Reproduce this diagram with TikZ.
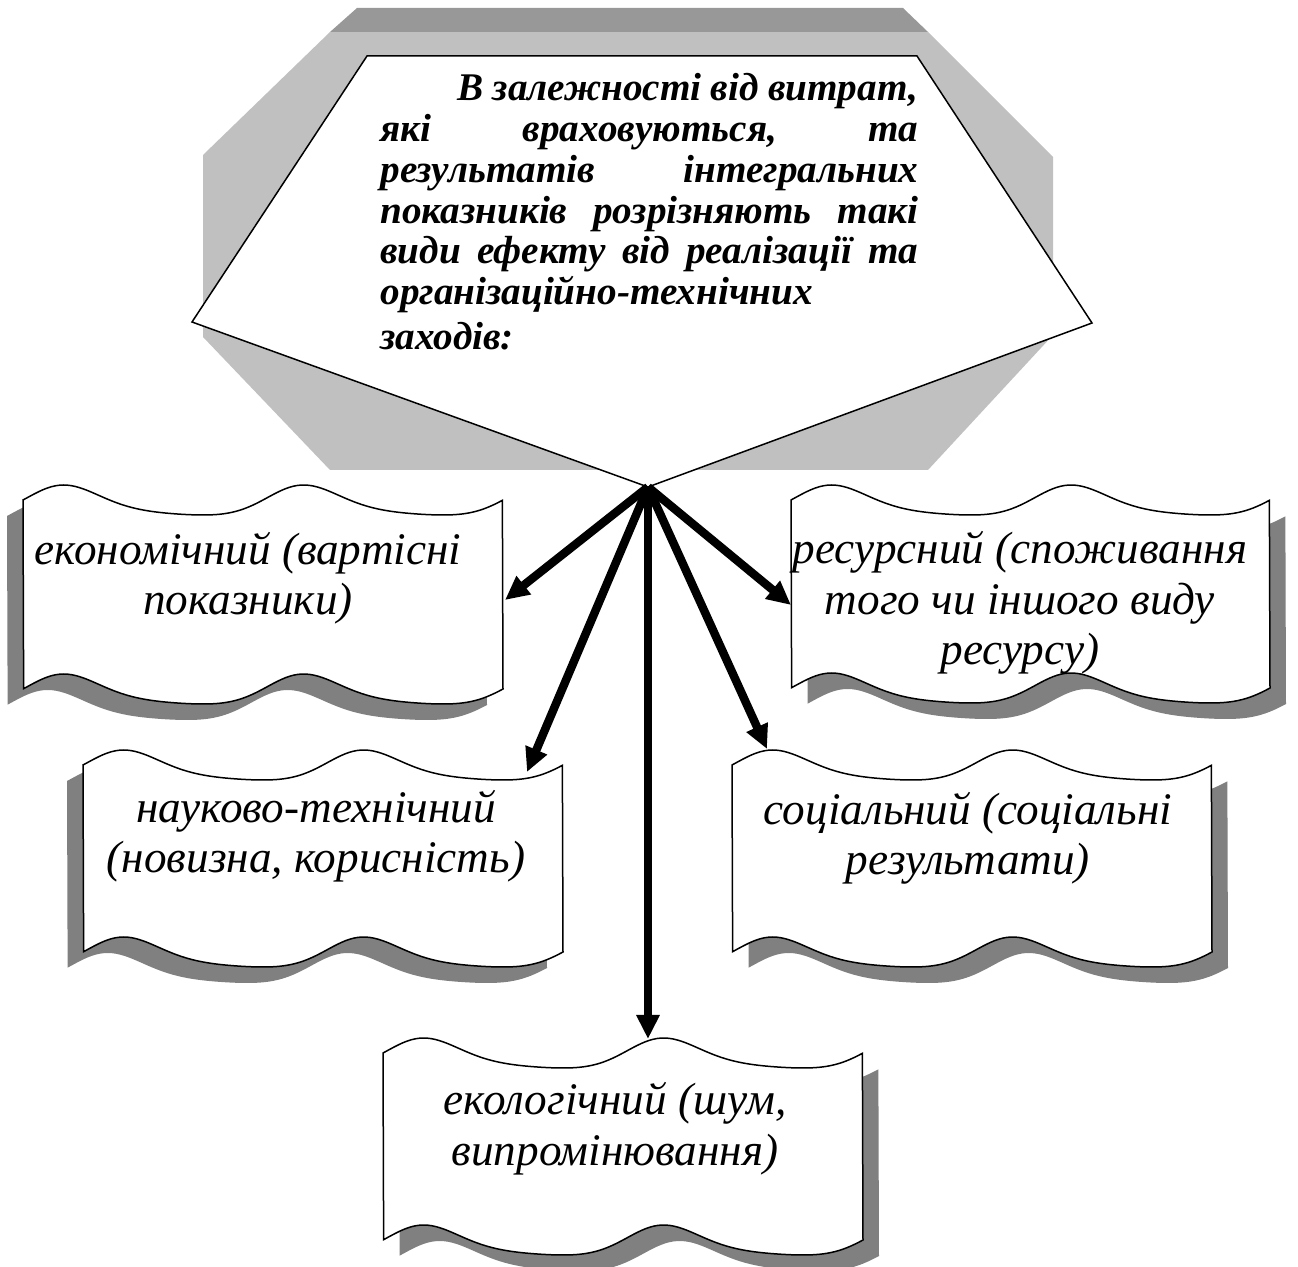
\documentclass[tikz,border=0pt]{standalone}
\usepackage{fontspec}
\setmainfont{Liberation Serif}
\usetikzlibrary{arrows.meta}
\definecolor{bandgray}{RGB}{152,152,152}
\definecolor{octgray}{RGB}{192,192,192}
\definecolor{shadowgray}{RGB}{128,128,128}
\tikzset{
  boxtext/.style={font=\fontsize{22.6}{25.3}\selectfont\itshape, align=center, inner sep=0pt, anchor=base},
  titletext/.style={font=\fontsize{19.6}{20.35}\selectfont\bfseries\itshape, align=left, inner sep=0pt, text width=269pt},
  arr/.style={line width=4.2pt, -{Triangle[length=12pt,width=11pt]}},
  outline/.style={line width=0.75pt, draw=black, fill=white, line join=miter}
}
% x, ytop, ybot, width, shadow dx
\newcommand{\wavebox}[5]{%
  \fill[shadowgray, shift={(#5,16)}]
    plot[domain=0:1,samples=120] ({#1+#4*\x},{#2-15*sin(720*\x+20.86*(sin(720*\x)+1-cos(720*\x)))})
    -- plot[domain=1:0,samples=120] ({#1+#4*\x},{#3-15*sin(720*\x+20.86*(sin(720*\x)+1-cos(720*\x)))}) -- cycle;
  \path[outline]
    plot[domain=0:1,samples=120] ({#1+#4*\x},{#2-15*sin(720*\x+20.86*(sin(720*\x)+1-cos(720*\x)))})
    -- plot[domain=1:0,samples=120] ({#1+#4*\x},{#3-15*sin(720*\x+20.86*(sin(720*\x)+1-cos(720*\x)))}) -- cycle;
}
\newcommand{\fullline}[1]{\makebox[269pt][s]{#1}}
\begin{document}
\begin{tikzpicture}[x=0.5pt,y=-0.5pt]
\useasboundingbox (0,0) rectangle (1298,1267);
% gray background octagon
\fill[octgray] (330,32) -- (928,32) -- (1053,157) -- (1053,335) -- (928,470) -- (330,470) -- (203,337) -- (203,155) -- cycle;
\fill[bandgray] (357,8) -- (903,8) -- (928,32) -- (330,32) -- cycle;
% white pentagon
\path[outline] (367,56) -- (917,56) -- (1092,323) -- (648,487) -- (192,322) -- cycle;
\coordinate (apex) at (648,487);
\node[titletext, anchor=base west] (title) at (380,101) {%
\fullline{\hspace*{38.5pt}В\hfill залежності\hfill від\hfill витрат,}\\
\fullline{які\hfill враховуються,\hfill та}\\
\fullline{результатів\hfill інтегральних}\\
\fullline{показників\hfill розрізняють\hfill такі}\\
\fullline{види\hfill ефекту\hfill від\hfill реалізації\hfill та}\\
організаційно-технічних\\[2pt]
заходів:};
% boxes
\wavebox{23}{500}{689}{480}{-16}
\wavebox{791}{500}{688}{479}{16}
\wavebox{83}{765}{952}{480}{-16}
\wavebox{732}{765}{952}{480}{16}
\wavebox{383}{1053}{1240}{480}{16}
\node[boxtext] (econ) at (248,615) {економічний (вартісні\\показники)};
\node[boxtext] (res) at (1020,665) {ресурсний (споживання\\того чи іншого виду\\ресурсу)};
\node[boxtext] (sci) at (316,873) {науково-технічний\\(новизна, корисність)};
\node[boxtext] (soc) at (968,875) {соціальний (соціальні\\результати)};
\node[boxtext] (eco) at (615,1165) {екологічний (шум,\\випромінювання)};
% arrow targets
\coordinate (tEcon) at (505,600);
\coordinate (tRes) at (791,605);
\coordinate (tSci) at (527,772);
\coordinate (tSoc) at (767,749);
\coordinate (tEco) at (648,1039);
\draw[arr] (apex) -- (tEcon);
\draw[arr] (apex) -- (tRes);
\draw[arr] (apex) -- (tSci);
\draw[arr] (apex) -- (tSoc);
\draw[arr] (apex) -- (tEco);
\end{tikzpicture}
\end{document}
